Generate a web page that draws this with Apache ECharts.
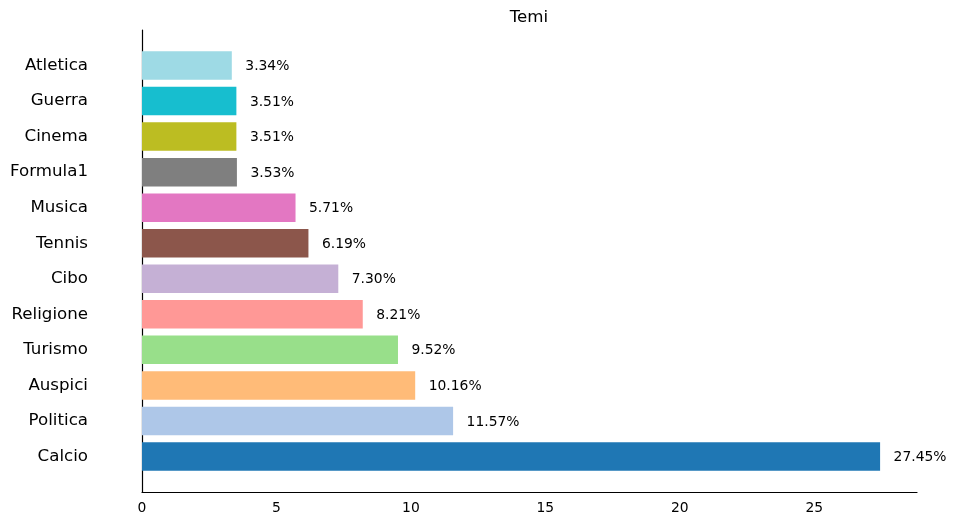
<!DOCTYPE html>
<html>
<head>
<meta charset="utf-8">
<script src="https://cdn.jsdelivr.net/npm/echarts@6/dist/echarts.min.js"></script>
<style>html,body{margin:0;padding:0;background:#fff;}#chart{width:956px;height:526px;}</style>
</head>
<body>
<div id="chart"></div>
<script>
const title = 'Temi';
const categories = ['Calcio', 'Politica', 'Auspici', 'Turismo', 'Religione', 'Cibo', 'Tennis', 'Musica', 'Formula1', 'Cinema', 'Guerra', 'Atletica'];
const values = [27.45, 11.57, 10.16, 9.52, 8.21, 7.30, 6.19, 5.71, 3.53, 3.51, 3.51, 3.34];
const xTicks = [0, 5, 10, 15, 20, 25];
const palette = ['#1f77b4', '#aec7e8', '#ffbb78', '#98df8a', '#ff9896', '#c5b0d5', '#8c564b', '#e377c2', '#7f7f7f', '#bcbd22', '#17becf', '#9edae5'];

const font = 'DejaVu Sans';
const axisCats = [''].concat(categories, ['']);
const seriesData = ['-'].concat(values.map((v, i) => ({ value: v, itemStyle: { color: palette[i] } })), ['-']);
const xMax = Math.max(...values) * 1.05;

const chart = echarts.init(document.getElementById('chart'));
chart.setOption({
  animation: false,
  backgroundColor: '#fff',
  title: {
    text: title, left: 529, top: 9, textAlign: 'center', padding: 0,
    textStyle: { fontFamily: font, fontSize: 16.67, fontWeight: 'normal', color: '#000' }
  },
  grid: { left: 142, right: 39, top: 30, bottom: 34, containLabel: false },
  xAxis: {
    type: 'value', min: 0, max: xMax, interval: 5,
    splitLine: { show: false },
    axisLine: { show: true, lineStyle: { color: '#000', width: 1.2 } },
    axisTick: { show: false },
    axisLabel: { customValues: xTicks, fontFamily: font, fontSize: 13.89, color: '#000', margin: 9 }
  },
  yAxis: {
    type: 'category', data: axisCats, boundaryGap: false,
    axisLine: { show: true, lineStyle: { color: '#000', width: 1.2 } },
    axisTick: { show: false },
    axisLabel: { fontFamily: font, fontSize: 16.67, color: '#000', margin: 54, interval: 0, padding: [2, 0, 0, 0] },
    splitLine: { show: false }
  },
  series: [{
    type: 'bar',
    data: seriesData,
    barWidth: 28.5,
    label: {
      show: true, position: 'right', distance: 13.5, offset: [0, 1],
      formatter: p => Number(p.value).toFixed(2) + '%',
      fontFamily: font, fontSize: 13.89, color: '#000'
    }
  }]
});
</script>
</body>
</html>
